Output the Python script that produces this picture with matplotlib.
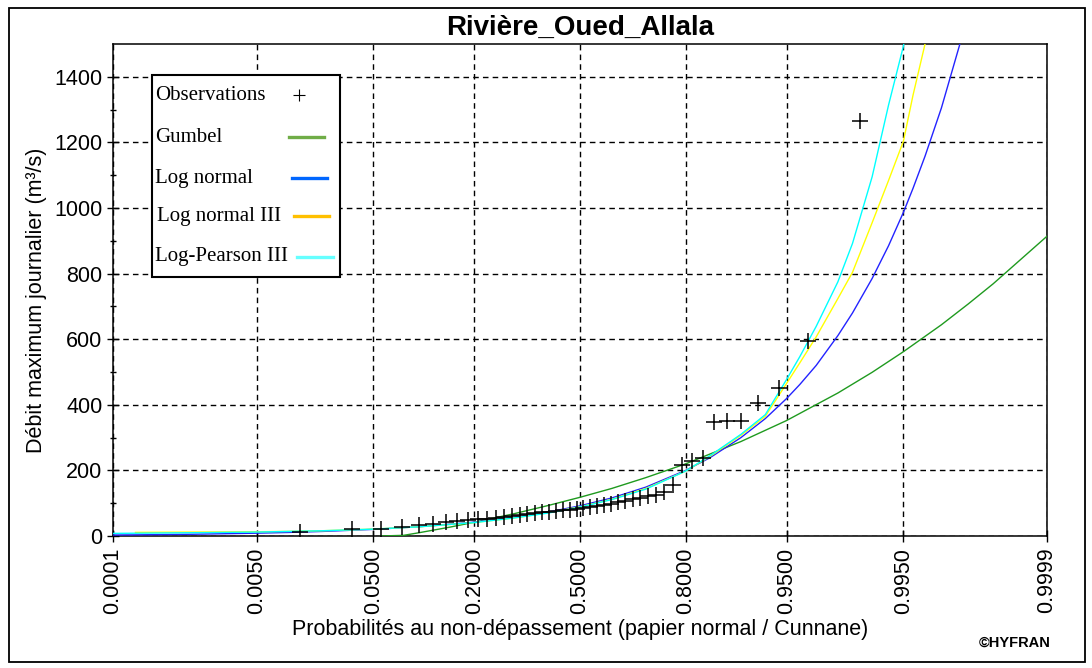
import math
import numpy as np
import matplotlib
matplotlib.use("Agg")
import matplotlib.pyplot as plt
from matplotlib.lines import Line2D
from matplotlib.patches import Rectangle

# ---------------- data ----------------
title = "Rivière_Oued_Allala"
xlabel = "Probabilités au non-dépassement (papier normal / Cunnane)"
ylabel = "Débit maximum journalier (m³/s)"

# observed annual maxima, sorted (m3/s)
obs_values = [12, 20, 22, 28, 33, 38, 44, 47, 50, 51, 53, 56, 59, 62, 65, 68,
              70, 72, 74, 76, 78, 80, 82, 85, 88, 90, 94, 98, 103, 108, 112,
              117, 121, 126, 134, 155, 215, 228, 238, 348, 352, 352, 405, 452,
              594, 1265]

# fitted curves: non-exceedance probability / discharge
curve_probs = [0.0001, 0.0002, 0.001, 0.005, 0.01, 0.02, 0.05, 0.1, 0.2, 0.3,
               0.4, 0.5, 0.6, 0.7, 0.8, 0.85, 0.9, 0.93, 0.95, 0.96, 0.97,
               0.98, 0.985, 0.99, 0.993, 0.995, 0.996, 0.997, 0.998, 0.999]
lognormal_q = [3, 3.5, 5.3, 8.6, 10.8, 13.9, 20.2, 28.3, 42.4, 56.8, 73, 92,
               116, 149, 200, 239, 300, 358, 419, 462, 520, 611, 680, 785,
               885, 987, 1060, 1158, 1305, 1586]
lognormal3_q = [np.nan, 11, 12, 13, 14, 16, 21, 28, 41, 55, 71, 89, 112, 145,
                198, 243, 307, 365, 465, 528, 607, 724, 804, 955, 1084, 1204,
                1344, 1500, 1750, 2100]
logpearson3_q = [8, 8.5, 10, 12, 14, 16, 21, 28, 41, 55, 70, 88, 111, 143,
                 198, 245, 310, 370, 477, 547, 639, 775, 892, 1095, 1314,
                 1494, 1650, 1850, 2150, 2600]

gumbel_probs = [0.056, 0.08, 0.1, 0.15, 0.2, 0.3, 0.4, 0.5, 0.6, 0.7, 0.8,
                0.9, 0.95, 0.98, 0.99, 0.995, 0.998, 0.999, 0.9995, 0.9999]
gumbel_q = [0, 2, 10, 27, 42, 68, 93, 118, 145, 178, 220, 288, 352, 436, 499,
            562, 644, 707, 769, 914]

xtick_probs = [0.0001, 0.005, 0.05, 0.2, 0.5, 0.8, 0.95, 0.995, 0.9999]
xtick_labels = ["0.0001", "0.0050", "0.0500", "0.2000", "0.5000", "0.8000",
                "0.9500", "0.9950", "0.9999"]
yticks = [0, 200, 400, 600, 800, 1000, 1200, 1400]

legend_labels = ["Observations", "Gumbel", "Log normal", "Log normal III",
                 "Log-Pearson III"]
legend_colors = [None, "#70AD47", "#0066FF", "#FFC000", "#66FFFF"]

# ---------------- normal probability scale ----------------
_a = [-3.969683028665376e+01, 2.209460984245205e+02, -2.759285104469687e+02,
      1.383577518672690e+02, -3.066479806614716e+01, 2.506628277459239e+00]
_b = [-5.447609879822406e+01, 1.615858368580409e+02, -1.556989798598866e+02,
      6.680131188771972e+01, -1.328068155288572e+01]
_c = [-7.784894002430293e-03, -3.223964580411365e-01, -2.400758277161838e+00,
      -2.549671348850117e+00, 4.374664141464968e+00, 2.938163982698783e+00]
_d = [7.784695709041462e-03, 3.224671290700398e-01, 2.445134137142996e+00,
      3.754408661907416e+00]


def ppf(p):
    p = np.asarray(p, dtype=float)
    shape = p.shape
    p = np.clip(np.atleast_1d(p).ravel(), 1e-15, 1 - 1e-15)
    z = np.empty_like(p)
    plow = 0.02425
    lo = p < plow
    hi = p > 1 - plow
    mid = ~(lo | hi)
    q = np.sqrt(-2 * np.log(p[lo]))
    z[lo] = ((((((_c[0]*q+_c[1])*q+_c[2])*q+_c[3])*q+_c[4])*q+_c[5]) /
             ((((_d[0]*q+_d[1])*q+_d[2])*q+_d[3])*q+1))
    q = p[mid] - 0.5
    r = q * q
    z[mid] = ((((((_a[0]*r+_a[1])*r+_a[2])*r+_a[3])*r+_a[4])*r+_a[5])*q /
              (((((_b[0]*r+_b[1])*r+_b[2])*r+_b[3])*r+_b[4])*r+1))
    q = np.sqrt(-2 * np.log(1 - p[hi]))
    z[hi] = -((((((_c[0]*q+_c[1])*q+_c[2])*q+_c[3])*q+_c[4])*q+_c[5]) /
              ((((_d[0]*q+_d[1])*q+_d[2])*q+_d[3])*q+1))
    return z.reshape(shape)


_erfc = np.vectorize(math.erfc)


def cdf(z):
    z = np.asarray(z, dtype=float)
    return 0.5 * _erfc(-z / math.sqrt(2.0))


# Cunnane plotting positions
n = len(obs_values)
ranks = np.arange(1, n + 1)
obs_probs = (ranks - 0.4) / (n + 0.2)

# ---------------- figure ----------------
W, H = 1092, 668


def fx(px):
    return px / W


def fy(py):
    return 1 - py / H


fig = plt.figure(figsize=(W / 100, H / 100), dpi=100)
L, R, T, B = 113, 1047, 44, 536
ax = fig.add_axes([L / W, 1 - B / H, (R - L) / W, (B - T) / H])
ax.set_xscale("function", functions=(ppf, cdf))
ax.set_xlim(0.0001, 0.9999)
ax.set_ylim(0, 1500)

font = "Liberation Sans"
ax.plot(gumbel_probs, gumbel_q, color="#1f9a1f", lw=1.0, zorder=3)
ax.plot(curve_probs, lognormal_q, color="#2323ff", lw=1.0, zorder=3)
ax.plot(curve_probs, lognormal3_q, color="#ffff00", lw=1.0, zorder=3)
ax.plot(curve_probs, logpearson3_q, color="#00ffff", lw=1.0, zorder=3)
ax.plot(obs_probs, obs_values, ls="none", marker="+", color="black",
        ms=11, mew=1.1, zorder=4)

ax.set_xticks(xtick_probs)
ax.set_xticklabels(xtick_labels, rotation=90, fontsize=15.5, family=font)
ax.xaxis.set_minor_locator(matplotlib.ticker.NullLocator())
ax.set_yticks(yticks)
ax.set_yticklabels([str(v) for v in yticks], fontsize=15.5, family=font)
ax.set_yticks(np.arange(100, 1500, 200), minor=True)
ax.tick_params(axis="x", which="major", direction="inout", length=8, width=1.0, pad=4.5)
ax.tick_params(axis="y", which="major", direction="inout", length=8, width=1.0, pad=3.5)
ax.tick_params(axis="y", which="minor", direction="inout", length=4, width=1.0)

ax.grid(True, which="major", color="black", linestyle=(0, (4, 3)), lw=1.0)
for s in ax.spines.values():
    s.set_linewidth(1.1)
    s.set_color("black")

ax.set_xlabel(xlabel, fontsize=15.5, family=font, va="center")
ax.xaxis.set_label_coords((580 - L) / (R - L), -(630 - B) / (B - T))
ax.set_ylabel(ylabel, fontsize=15.5, family=font, va="center")
ax.yaxis.set_label_coords(-(L - 37) / (R - L), (B - 300) / (B - T))

ax.set_title(title, fontsize=20, fontweight="bold", family=font,
             y=1 + (T - 28) / (B - T), va="center", pad=0)

fig.text(fx(1015), fy(643), "©HYFRAN", fontsize=10.5, fontweight="bold",
         family=font, ha="center", va="center")

# ---------------- legend box (drawn by hand: text left, sample right) ----
leg_box = (152, 75, 340, 277)
leg_rows_y = [95, 137, 178, 216, 257]
leg_text_x = [155, 155, 155, 157, 155]
leg_line_x = [(299, 299), (289, 324), (292, 327), (294, 329), (297, 333)]
fig.patches.append(Rectangle((fx(leg_box[0]), fy(leg_box[3])),
                             (leg_box[2] - leg_box[0]) / W,
                             (leg_box[3] - leg_box[1]) / H,
                             transform=fig.transFigure, facecolor="white",
                             edgecolor="black", lw=1.5, zorder=5))
for lab, col, yy, tx, (x0, x1) in zip(legend_labels, legend_colors, leg_rows_y,
                                      leg_text_x, leg_line_x):
    fig.text(fx(tx), fy(yy), lab, family="Liberation Serif", fontsize=15,
             ha="left", va="center", zorder=6)
    if col is None:
        fig.add_artist(Line2D([fx(x0)], [fy(yy)], ls="none", marker="+",
                              color="black", ms=9, mew=0.8,
                              transform=fig.transFigure, zorder=6))
    else:
        fig.add_artist(Line2D([fx(x0), fx(x1)], [fy(yy), fy(yy)], color=col,
                              lw=2.4, transform=fig.transFigure, zorder=6))

fig.patches.append(Rectangle((fx(9), fy(662)), (1085 - 9) / W, (662 - 8) / H,
                             transform=fig.transFigure, fill=False,
                             edgecolor="black", lw=1.3))

fig.savefig("out.png", dpi=100)
